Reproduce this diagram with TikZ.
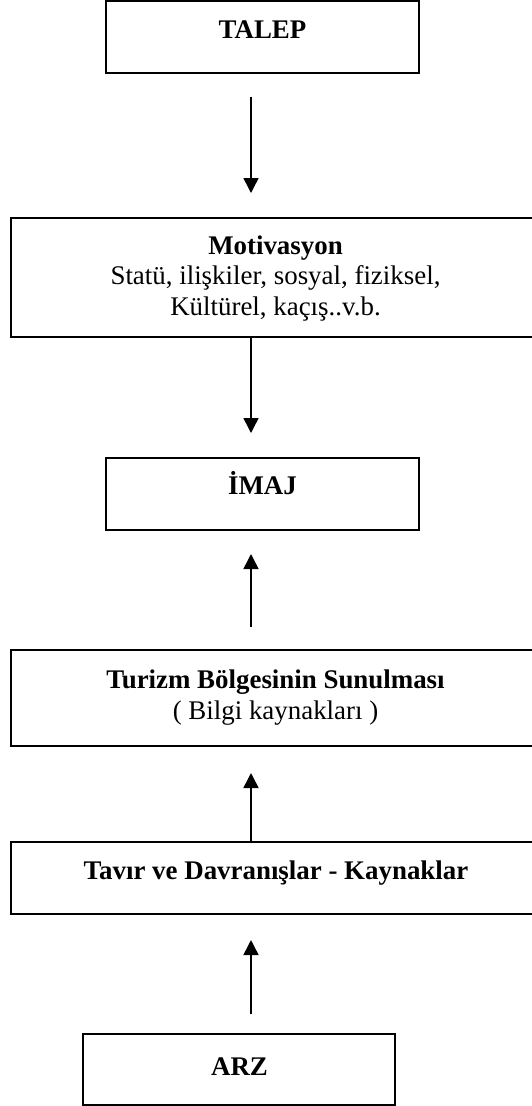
\documentclass[tikz,border=0pt]{standalone}
\usepackage{fontspec}
\setmainfont{Liberation Serif}
\usetikzlibrary{arrows.meta}
\begin{document}
\begin{tikzpicture}[x=1pt,y=-1pt,
  box/.style={draw,line width=2pt,inner sep=0pt,outer sep=0pt,anchor=north west},
  lbl/.style={anchor=base,inner sep=0pt,font=\fontsize{26.9}{31}\selectfont},
  bold/.style={lbl,font=\fontsize{26.9}{31}\selectfont\bfseries},
  flow/.style={line width=1.5pt,-{Triangle[width=15pt,length=15pt]}}]
% page
\fill[white] (0,0) rectangle (531,1106);
\useasboundingbox (0,0) rectangle (531,1106);
\coordinate (ax) at (251,0);

% boxes
\node[box,minimum width=313pt,minimum height=72pt] (talep) at (106,1) {};
\node[box,minimum width=529pt,minimum height=119pt] (motiv) at (11,218) {};
\node[box,minimum width=313pt,minimum height=72pt] (imaj) at (106,458) {};
\node[box,minimum width=529pt,minimum height=96pt] (turizm) at (11,650) {};
\node[box,minimum width=529pt,minimum height=72pt] (tavir) at (11,842) {};
\node[box,minimum width=312pt,minimum height=71pt] (arz) at (83,1034) {};

% texts
\node[bold] (t1) at (262.5,38.3) {TALEP};
\node[bold] (t2a) at (275.5,254.6) {Motivasyon};
\node[lbl] (t2b) at (275.5,284.5) {Statü, ilişkiler, sosyal, fiziksel,};
\node[lbl] (t2c) at (275.5,315.6) {Kültürel, kaçış..v.b.};
\node[bold] (t3) at (262.5,494) {İMAJ};
\node[bold] (t4a) at (275.5,688) {Turizm Bölgesinin Sunulması};
\node[lbl] (t4b) at (275.5,719) {( Bilgi kaynakları )};
\node[bold] (t5) at (276,879) {Tavır ve Davranışlar - Kaynaklar};
\node[bold] (t6) at (239.5,1075) {ARZ};

% connectors
\draw[flow,shorten <=24pt,shorten >=25pt] (talep.south -| ax) -- (motiv.north -| ax);
\draw[flow,shorten >=25pt] (motiv.south -| ax) -- (imaj.north -| ax);
\draw[flow,shorten <=23pt,shorten >=24pt] (turizm.north -| ax) -- (imaj.south -| ax);
\draw[flow,shorten >=27pt] (tavir.north -| ax) -- (turizm.south -| ax);
\draw[flow,shorten <=20pt,shorten >=26pt] (arz.north -| ax) -- (tavir.south -| ax);
\end{tikzpicture}
\end{document}
